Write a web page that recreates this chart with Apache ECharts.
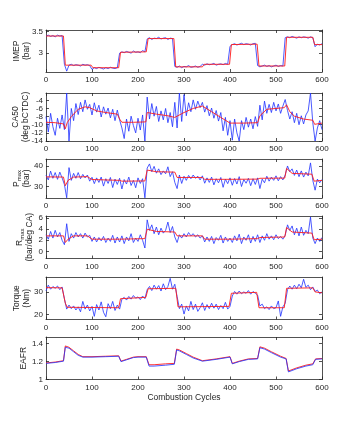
<!DOCTYPE html>
<html>
<head>
<meta charset="utf-8">
<script src="https://cdn.jsdelivr.net/npm/echarts@6/dist/echarts.min.js"></script>
<style>
html, body { margin: 0; padding: 0; background: #fff; }
#main { width: 355px; height: 425px; }
</style>
</head>
<body>
<div id="main"></div>
<script>
// measured values, one blue sample every 5 combustion cycles (0..600)
const step = 5

const imepBlue = [
    3.40, 3.42, 3.39, 3.41, 3.38, 3.42, 3.40, 3.41, 2.74, 2.58,
    2.72, 2.74, 2.71, 2.73, 2.72, 2.70, 2.74, 2.72, 2.73, 2.71,
    2.62, 2.66, 2.64, 2.67, 2.65, 2.63, 2.66, 2.64, 2.67, 2.65,
    2.64, 2.66, 3.00, 3.03, 3.01, 3.04, 3.02, 3.00, 3.05, 3.02,
    3.03, 3.01, 3.06, 3.03, 3.33, 3.36, 3.32, 3.35, 3.34, 3.37,
    3.33, 3.35, 3.36, 3.32, 3.35, 3.34, 2.69, 2.67, 2.70, 2.66,
    2.69, 2.68, 2.71, 2.67, 2.68, 2.70, 2.67, 2.69, 2.74, 2.72,
    2.75, 2.73, 2.74, 2.76, 2.72, 2.74, 2.75, 2.73, 2.76, 2.74,
    3.16, 3.20, 3.22, 3.19, 3.21, 3.23, 3.20, 3.22, 3.21, 3.19,
    3.22, 3.23, 2.71, 2.68, 2.70, 2.72, 2.69, 2.71, 2.68, 2.70,
    2.72, 2.69, 2.71, 2.70, 3.36, 3.38, 3.36, 3.39, 3.37, 3.35,
    3.38, 3.36, 3.38, 3.37, 3.35, 3.38, 3.36, 3.15, 3.21, 3.19,
    3.22
]
const imepRed = [
    [0, 3.40], [38, 3.40], [42, 2.72], [98, 2.72], [102, 2.66], [158, 2.66],
    [162, 3.02], [218, 3.03], [222, 3.34], [278, 3.34], [282, 2.68], [340, 2.68],
    [344, 2.74], [399, 2.74], [403, 3.20], [459, 3.21], [463, 2.70], [519, 2.70],
    [523, 3.37], [580, 3.37], [584, 3.20], [600, 3.20]
]

const ca50Blue = [
    -8.0, -11.8, -7.2, -10.5, -12.6, -8.4, -10.9, -7.6, -11.2, -2.2,
    -14.0, -6.0, -9.0, -4.8, -7.5, -4.5, -6.8, -3.9, -6.2, -5.0,
    -7.6, -4.6, -6.9, -5.2, -8.1, -5.6, -7.4, -5.9, -8.3, -6.2,
    -9.0, -6.4, -8.8, -10.8, -13.4, -8.6, -11.6, -7.9, -10.2, -12.0,
    -8.4, -11.3, -7.6, -14.0, -3.2, -8.6, -4.8, -7.9, -5.5, -9.2,
    -6.6, -8.8, -6.0, -9.5, -7.0, -10.5, -4.5, -10.8, -2.2, -9.2,
    -2.6, -7.8, -4.6, -6.8, -3.9, -6.2, -4.2, -5.8, -4.5, -6.9,
    -5.3, -7.8, -5.9, -8.4, -6.5, -9.1, -7.0, -11.5, -8.2, -12.6,
    -9.0, -13.8, -8.6, -12.0, -14.0, -9.0, -11.2, -8.2, -10.6, -8.6,
    -11.0, -8.0, -10.4, -5.2, -8.8, -4.2, -7.2, -5.0, -7.0, -4.5,
    -6.6, -4.9, -7.2, -5.4, -3.8, -6.5, -8.6, -6.8, -9.5, -7.2,
    -10.0, -7.8, -9.8, -7.6, -6.6, -2.2, -9.5, -14.0, -10.8, -9.0,
    -11.2
]
const ca50Red = [
    [0, -9.4], [20, -9.5], [38, -9.8], [42, -11.0], [46, -9.5], [55, -8.0],
    [70, -6.2], [85, -5.6], [95, -5.8], [110, -6.6], [130, -7.0], [155, -7.4],
    [160, -8.6], [165, -9.4], [190, -9.4], [217, -9.3], [220, -7.0], [240, -7.4],
    [265, -7.8], [280, -8.2], [300, -7.0], [320, -6.0], [340, -5.4], [360, -6.8],
    [380, -8.2], [400, -9.6], [430, -9.6], [460, -9.5], [465, -7.8], [480, -6.2],
    [500, -6.0], [518, -5.8], [523, -5.1], [530, -6.8], [540, -7.9], [560, -8.6],
    [580, -8.9], [584, -9.9], [600, -9.6]
]

const pmaxBlue = [
    35.5, 33.2, 37.5, 34.0, 36.8, 33.5, 37.0, 34.2, 31.0, 24.5,
    39.2, 33.0, 36.4, 34.0, 36.8, 33.8, 35.9, 34.2, 35.6, 32.6,
    34.5, 31.4, 34.2, 32.0, 34.6, 30.2, 33.8, 31.5, 34.4, 29.5,
    33.6, 31.0, 34.0, 28.8, 33.4, 31.2, 34.6, 30.5, 33.0, 29.4,
    34.2, 31.5, 33.8, 24.5, 39.0, 41.0, 37.2, 39.8, 36.5, 38.6,
    35.8, 37.6, 36.2, 39.6, 34.8, 37.2, 32.0, 29.0, 35.6, 31.5,
    35.0, 33.0, 35.4, 33.8, 35.6, 34.0, 35.0, 33.2, 35.2, 31.6,
    34.2, 32.0, 34.6, 30.8, 33.8, 31.8, 34.4, 29.6, 33.6, 31.4,
    34.2, 30.6, 33.9, 31.2, 34.8, 30.0, 33.4, 31.6, 34.0, 30.4,
    33.8, 31.0, 34.2, 29.0, 33.6, 31.8, 35.0, 32.6, 34.6, 33.0,
    35.2, 32.8, 34.8, 33.2, 35.6, 40.0, 37.2, 38.6, 35.4, 38.0,
    34.8, 37.6, 34.6, 37.0, 35.2, 41.5, 33.0, 28.2, 33.6, 31.8,
    33.4
]
const pmaxRed = [
    [0, 34.7], [38, 34.6], [42, 30.4], [48, 33.0], [60, 34.6], [90, 34.8],
    [100, 33.4], [160, 33.0], [165, 32.6], [215, 32.7], [220, 38.0], [240, 37.2],
    [280, 37.0], [285, 34.4], [340, 34.4], [345, 33.5], [400, 33.5], [460, 33.6],
    [465, 34.0], [519, 34.1], [523, 38.8], [535, 36.4], [578, 36.0], [583, 32.6],
    [600, 33.0]
]

const rmaxBlue = [
    3.0, 2.2, 3.6, 2.4, 3.8, 2.6, 3.4, 2.0, 1.2, 5.0,
    1.8, 3.2, 2.4, 3.4, 2.6, 3.2, 2.4, 3.3, 2.6, 2.9,
    1.8, 2.6, 1.7, 2.5, 1.9, 2.7, 1.6, 2.4, 1.8, 2.9,
    1.5, 2.6, 1.7, 2.8, 1.4, 2.6, 1.9, 3.2, 1.6, 2.4,
    1.8, 3.0, 2.0, 0.6, 5.7, 3.8, 4.8, 3.2, 4.4, 3.0,
    4.2, 3.3, 3.8, 5.3, 3.4, 4.5, 2.6, 1.6, 3.0, 2.4,
    3.2, 2.6, 3.4, 2.8, 3.2, 2.6, 3.0, 2.4, 2.8, 1.7,
    2.6, 1.8, 2.7, 1.4, 2.5, 2.0, 2.9, 1.5, 2.6, 1.8,
    2.4, 1.6, 2.8, 1.9, 3.1, 1.4, 2.6, 2.0, 3.0, 1.5,
    2.7, 1.8, 3.0, 1.6, 2.8, 2.0, 3.2, 2.2, 2.8, 2.1,
    3.0, 2.3, 2.7, 2.2, 2.9, 4.8, 3.8, 4.6, 3.0, 4.2,
    2.8, 4.4, 2.9, 3.8, 3.2, 6.2, 2.4, 1.4, 2.4, 1.8,
    2.5
]
const rmaxRed = [
    [0, 2.8], [38, 2.8], [42, 1.6], [48, 2.2], [60, 2.8], [90, 2.8],
    [100, 2.2], [160, 2.2], [215, 2.3], [220, 4.0], [240, 3.6], [280, 3.5],
    [285, 2.8], [340, 2.8], [345, 2.2], [400, 2.2], [460, 2.3], [465, 2.5],
    [519, 2.6], [523, 4.3], [535, 3.5], [578, 3.3], [583, 2.1], [600, 2.2]
]

const torqueBlue = [
    30.5, 33.0, 31.2, 32.4, 31.6, 32.6, 31.0, 32.2, 27.0, 22.4,
    24.2, 22.6, 23.8, 22.0, 23.4, 21.2, 25.8, 22.4, 24.2, 21.6,
    23.6, 19.2, 24.4, 22.0, 25.6, 21.0, 19.0, 24.8, 22.6, 25.8,
    21.8, 24.2, 22.4, 26.8, 27.6, 26.4, 28.0, 26.8, 28.4, 27.2,
    27.8, 26.6, 28.2, 27.0, 31.0, 32.4, 30.6, 33.0, 31.2, 32.8,
    30.4, 33.6, 31.0, 32.4, 36.0, 31.2, 33.4, 28.0, 22.6, 24.6,
    20.2, 23.8, 21.6, 25.8, 22.2, 24.6, 21.4, 23.0, 25.2, 21.8,
    24.4, 22.6, 25.0, 22.8, 24.6, 22.2, 24.0, 22.6, 25.4, 22.4,
    23.6, 28.2, 30.2, 29.0, 30.4, 29.2, 30.0, 29.4, 30.6, 29.0,
    30.2, 29.4, 28.6, 23.8, 24.6, 22.6, 23.4, 22.2, 23.8, 22.6,
    23.0, 26.0, 19.2, 23.4, 25.0, 31.0, 32.6, 31.2, 33.0, 31.4,
    33.4, 31.8, 35.6, 32.0, 33.0, 31.0, 32.2, 30.2, 30.8, 29.2,
    30.0
]
const torqueRed = [
    [0, 31.9], [35, 31.8], [42, 25.0], [46, 23.2], [158, 23.0], [162, 27.0],
    [217, 27.6], [222, 31.4], [282, 31.6], [287, 23.4], [398, 23.6], [403, 29.4],
    [458, 29.8], [463, 23.0], [518, 23.0], [523, 31.6], [580, 31.8], [585, 30.0],
    [600, 29.6]
]

// EAFR is smooth, so only its corner points are kept
const eafrBlue = [
    [0, 1.18], [20, 1.19], [38, 1.205], [42, 1.36], [50, 1.35], [60, 1.31],
    [70, 1.27], [80, 1.25], [100, 1.25], [130, 1.255], [158, 1.26], [163, 1.20],
    [175, 1.22], [190, 1.245], [200, 1.25], [218, 1.25], [224, 1.15], [235, 1.15],
    [260, 1.16], [279, 1.17], [284, 1.33], [290, 1.32], [305, 1.28], [320, 1.24],
    [340, 1.205], [370, 1.225], [400, 1.25], [405, 1.175], [420, 1.20], [440, 1.225],
    [460, 1.23], [465, 1.355], [475, 1.34], [490, 1.30], [510, 1.25], [522, 1.23],
    [527, 1.085], [545, 1.12], [565, 1.15], [580, 1.165], [586, 1.225], [600, 1.23]
]
const eafrRed = [
    [0, 1.185], [20, 1.195], [38, 1.21], [42, 1.375], [50, 1.36], [60, 1.32],
    [70, 1.28], [80, 1.255], [100, 1.255], [130, 1.26], [158, 1.265], [163, 1.205],
    [175, 1.225], [190, 1.25], [200, 1.255], [218, 1.255], [224, 1.165], [235, 1.165],
    [260, 1.175], [279, 1.18], [284, 1.34], [290, 1.33], [305, 1.29], [320, 1.25],
    [340, 1.21], [370, 1.23], [400, 1.255], [405, 1.18], [420, 1.205], [440, 1.23],
    [460, 1.235], [465, 1.365], [475, 1.35], [490, 1.31], [510, 1.26], [522, 1.235],
    [527, 1.095], [545, 1.13], [565, 1.16], [580, 1.175], [586, 1.23], [600, 1.235]
]

const FONT = 'Liberation Sans, Arial, Helvetica, sans-serif'
const INK = '#262626'
const BLUE = '#2233ff'
const RED = '#ff1a1a'

function sampled(arr) {
    return arr.map((v, i) => [i * step, v])
}

const panels = [
    {top: 30, height: 42, min: 2.56, max: 3.54, ticks: [3, 3.5], name: 'IMEP\n(bar)', gap: 14.5,
        blue: sampled(imepBlue), red: imepRed},
    {top: 93, height: 48, min: -14, max: -2.2, ticks: [-14, -12, -10, -8, -6, -4], name: 'CA50\n(deg bCTDC)', gap: 15,
        blue: sampled(ca50Blue), red: ca50Red},
    {top: 159, height: 39, min: 24.4, max: 43.4, ticks: [30, 40], name: '{n|P}{s|max}\n{n|(bar)}', gap: 14,
        blue: sampled(pmaxBlue), red: pmaxRed},
    {top: 216, height: 42.5, min: -1.3, max: 6.4, ticks: [0, 2, 4, 6], name: '{n|R}{s|max}\n{n|(bar/deg CA)}', gap: 11,
        blue: sampled(rmaxBlue), red: rmaxRed},
    {top: 277, height: 42.5, min: 17.8, max: 36.6, ticks: [20, 30], name: 'Torque\n(Nm)', gap: 14,
        blue: sampled(torqueBlue), red: torqueRed},
    {top: 337, height: 42.5, min: 1, max: 1.475, ticks: [1, 1.2, 1.4], name: 'EAFR', gap: 17.5,
        blue: eafrBlue, red: eafrRed, redUnder: true}
]

const grid = [], xAxis = [], yAxis = [], series = []

const axisLine = {onZero: false, lineStyle: {color: INK, width: 0.8}}
const tick = {inside: true, length: 3, lineStyle: {color: INK, width: 0.8}}

panels.forEach((p, i) => {
    grid.push({left: 46, width: 276, top: p.top, height: p.height, containLabel: false, outerBoundsMode: 'none'})

    xAxis.push({
        type: 'value', gridIndex: i, min: 0, max: 600, interval: 100,
        axisLine: axisLine,
        axisTick: tick,
        axisLabel: {fontSize: 8, color: INK, fontFamily: FONT, margin: 4},
        splitLine: {show: false},
        name: i === panels.length - 1 ? 'Combustion Cycles' : '',
        nameLocation: 'middle', nameGap: 14, nameMoveOverlap: false,
        nameTextStyle: {fontSize: 8.5, color: INK, fontFamily: FONT}
    })
    xAxis.push({
        type: 'value', gridIndex: i, min: 0, max: 600, interval: 100, position: 'top',
        axisLine: axisLine, axisTick: tick,
        axisLabel: {show: false}, splitLine: {show: false}
    })

    yAxis.push({
        type: 'value', gridIndex: i, min: p.min, max: p.max,
        axisLine: axisLine,
        axisTick: Object.assign({customValues: p.ticks}, tick),
        axisLabel: {customValues: p.ticks, fontSize: 8, color: INK, fontFamily: FONT, margin: 3},
        splitLine: {show: false},
        name: p.name, nameLocation: 'middle', nameGap: p.gap, nameMoveOverlap: false,
        nameTextStyle: {
            fontSize: 8.5, color: INK, fontFamily: FONT, lineHeight: 10,
            rich: {
                n: {fontSize: 8.5, color: INK, fontFamily: FONT, lineHeight: 10},
                s: {fontSize: 6, color: INK, fontFamily: FONT, lineHeight: 10, verticalAlign: 'bottom'}
            }
        }
    })
    yAxis.push({
        type: 'value', gridIndex: i, min: p.min, max: p.max, position: 'right',
        axisLine: axisLine,
        axisTick: Object.assign({customValues: p.ticks}, tick),
        axisLabel: {show: false}, splitLine: {show: false}
    })

    const blue = {
        type: 'line', xAxisIndex: i * 2, yAxisIndex: i * 2, data: p.blue,
        symbol: 'none', lineStyle: {color: BLUE, width: 0.9, opacity: 0.9}, z: 2
    }
    const red = {
        type: 'line', xAxisIndex: i * 2, yAxisIndex: i * 2, data: p.red,
        symbol: 'none', lineStyle: {color: RED, width: 0.9}, z: p.redUnder ? 1 : 3
    }
    series.push(blue, red)
})

const chart = echarts.init(document.getElementById('main'))
chart.setOption({
    animation: false,
    backgroundColor: '#fff',
    grid: grid,
    xAxis: xAxis,
    yAxis: yAxis,
    series: series
})
</script>
</body>
</html>
